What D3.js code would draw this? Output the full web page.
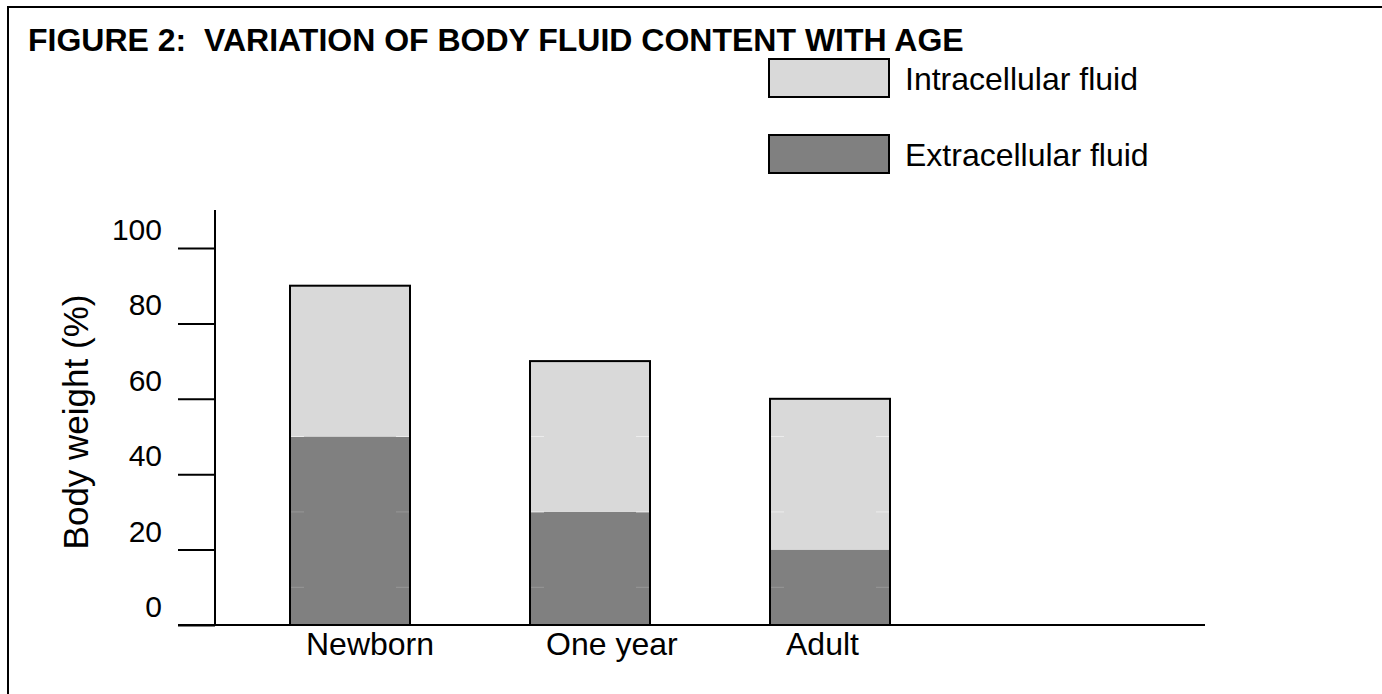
<!DOCTYPE html>
<html>
<head>
<meta charset="utf-8">
<script src="https://cdn.jsdelivr.net/npm/d3@7"></script>
<style>
  body { margin: 0; background: #fff; }
  text { font-family: "Liberation Sans", Arial, sans-serif; fill: #000; }
</style>
</head>
<body>
<div id="chart"></div>
<script>
// Chart data
const categories = ['Newborn', 'One year', 'Adult'];
const extracellular = [50, 30, 20];
const intracellular = [40, 40, 40];
const yTicks = [0, 20, 40, 60, 80, 100];
const seriesNames = ['Intracellular fluid', 'Extracellular fluid'];
const seriesColors = ['#d9d9d9', '#808080'];

const width = 1382, height = 694;
const svg = d3.select('#chart').append('svg')
  .attr('width', width)
  .attr('height', height);

// Outer frame (top and left edges only visible)
svg.append('path')
  .attr('d', 'M8,694 L8,7 L1382,7')
  .attr('fill', 'none')
  .attr('stroke', '#000')
  .attr('stroke-width', 2);

// Title
svg.append('text')
  .attr('x', 28)
  .attr('y', 51)
  .style('font-size', '32px')
  .style('font-weight', 'bold')
  .text('FIGURE 2:\u00a0 VARIATION OF BODY FLUID CONTENT WITH AGE');

// Scales
const y = d3.scaleLinear().domain([0, 100]).range([625, 248]);
const x = d3.scaleBand().domain(categories).range([230, 950]).paddingInner(0.5).paddingOuter(0.25);

// Stack the series
const rows = categories.map((c, i) => ({ cat: c, extra: extracellular[i], intra: intracellular[i] }));
const stack = d3.stack().keys(['extra', 'intra'])(rows);

const barG = svg.append('g');
stack.forEach((layer, li) => {
  barG.selectAll(null)
    .data(layer)
    .enter().append('rect')
    .attr('x', d => x(d.data.cat))
    .attr('y', d => y(d[1]))
    .attr('width', x.bandwidth())
    .attr('height', d => y(d[0]) - y(d[1]))
    .attr('fill', li === 0 ? seriesColors[1] : seriesColors[0]);
});

// faint marks inside bars where the original had slice seams
const seams = [10, 30, 50];
rows.forEach(r => {
  const total = r.extra + r.intra;
  seams.filter(v => v < total).forEach(v => {
    const col = v < r.extra ? '#969696' : '#ececec';
    [x(r.cat) + 1, x(r.cat) + x.bandwidth() - 14].forEach(x0 => {
      svg.append('line')
        .attr('x1', x0).attr('x2', x0 + 13)
        .attr('y1', y(v)).attr('y2', y(v))
        .attr('stroke', col).attr('stroke-width', 1);
    });
  });
});

// bar outlines
barG.selectAll(null)
  .data(rows)
  .enter().append('rect')
  .attr('x', d => x(d.cat))
  .attr('y', d => y(d.extra + d.intra))
  .attr('width', x.bandwidth())
  .attr('height', d => y(0) - y(d.extra + d.intra))
  .attr('fill', 'none')
  .attr('stroke', '#000')
  .attr('stroke-width', 2);

// Y axis
const yAxis = svg.append('g').attr('transform', 'translate(215,0)')
  .call(d3.axisLeft(y).tickValues(yTicks).tickSize(37).tickFormat(''));
yAxis.select('.domain').remove();
yAxis.selectAll('.tick line').attr('stroke', '#000').attr('stroke-width', 2);
svg.append('line')
  .attr('x1', 215).attr('x2', 215)
  .attr('y1', 210).attr('y2', y(0))
  .attr('stroke', '#000').attr('stroke-width', 2);

svg.append('g').selectAll('text')
  .data(yTicks)
  .enter().append('text')
  .attr('x', 162)
  .attr('y', d => y(d) - 8)
  .attr('text-anchor', 'end')
  .style('font-size', '30px')
  .text(d => d);

// X axis line
svg.append('line')
  .attr('x1', 178).attr('x2', 1205)
  .attr('y1', y(0)).attr('y2', y(0))
  .attr('stroke', '#000').attr('stroke-width', 2);

svg.append('g').selectAll('text')
  .data(categories)
  .enter().append('text')
  .attr('x', d => x(d) + 16)
  .attr('y', 655)
  .style('font-size', '32px')
  .text(d => d);

// Y axis title
svg.append('text')
  .attr('transform', 'translate(88,422) rotate(-90)')
  .attr('text-anchor', 'middle')
  .style('font-size', '35px')
  .text('Body weight (%)');

// Legend
const legend = svg.append('g').selectAll('g')
  .data(seriesNames)
  .enter().append('g')
  .attr('transform', (d, i) => `translate(769,${59 + i * 76})`);
legend.append('rect')
  .attr('width', 120).attr('height', 38)
  .attr('fill', (d, i) => seriesColors[i])
  .attr('stroke', '#000').attr('stroke-width', 2);
legend.append('text')
  .attr('x', 136).attr('y', 31)
  .style('font-size', '32px')
  .text(d => d);
</script>
</body>
</html>
